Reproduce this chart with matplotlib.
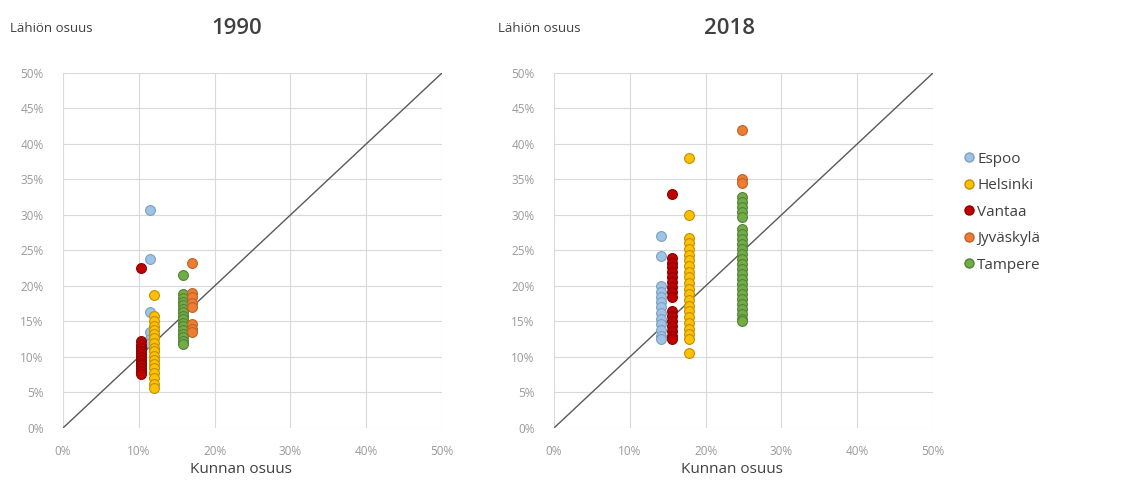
import matplotlib.pyplot as plt
from matplotlib.ticker import PercentFormatter
from matplotlib.lines import Line2D

plt.rcParams['font.family'] = ['Open Sans', 'DejaVu Sans']

cities = ['Espoo', 'Helsinki', 'Vantaa', 'Jyväskylä', 'Tampere']
fill = ['#9dc3e6', '#ffc000', '#c00000', '#ed7d31', '#70ad47']
edge = ['#7f9fbf', '#bf9000', '#8b0000', '#c0622a', '#548235']

# 1990: municipality share (x) and neighbourhood shares (y), percent
x1990 = {'Espoo': 11.5, 'Helsinki': 12.0, 'Vantaa': 10.3, 'Jyväskylä': 17.0, 'Tampere': 15.8}
y1990 = {
    'Espoo': [30.7, 23.8, 16.3, 13.5, 12.5, 12.0],
    'Vantaa': [22.5, 12.2, 11.7, 11.2, 10.8, 10.4, 10.0, 9.6, 9.2, 8.8, 8.4, 8.0, 7.6],
    'Helsinki': [18.7, 15.8, 15.0, 14.3, 13.8, 13.2, 12.6, 12.0, 11.3, 10.8, 10.2,
                 9.6, 9.0, 8.4, 7.8, 7.0, 6.2, 5.6],
    'Tampere': [21.5, 18.8, 18.3, 17.8, 17.3, 16.8, 16.3, 15.8, 15.3, 14.8, 14.3,
                13.8, 13.3, 12.8, 12.3, 11.8],
    'Jyväskylä': [23.3, 19.0, 18.4, 17.6, 17.0, 14.6, 14.0, 13.5],
}

# 2018
x2018 = {'Espoo': 14.1, 'Helsinki': 17.8, 'Vantaa': 15.5, 'Jyväskylä': 24.8, 'Tampere': 24.8}
y2018 = {
    'Espoo': [27.0, 24.2, 20.0, 19.2, 18.5, 17.8, 17.0, 16.2, 15.4, 14.6, 13.8, 13.0, 12.5],
    'Vantaa': [33.0, 24.0, 23.3, 22.6, 21.9, 21.2, 20.5, 19.8, 19.1, 18.4, 16.5, 15.8,
               15.1, 14.4, 13.7, 13.0, 12.5],
    'Helsinki': [38.0, 30.0, 26.8, 26.0, 25.2, 24.4, 23.6, 22.8, 22.0, 21.2, 20.4, 19.6,
                 18.8, 18.0, 17.2, 16.4, 15.6, 14.8, 14.0, 13.2, 12.5, 10.5],
    'Tampere': [32.5, 31.8, 31.1, 30.4, 29.7, 28.0, 27.3, 26.6, 25.9, 25.2, 24.5, 23.8,
                23.1, 22.4, 21.7, 21.0, 20.3, 19.6, 18.9, 18.2, 17.5, 16.8, 16.1, 15.4, 15.0],
    'Jyväskylä': [42.0, 35.0, 34.5],
}

draw_order = ['Espoo', 'Vantaa', 'Helsinki', 'Tampere', 'Jyväskylä']

fig = plt.figure(figsize=(11.36, 4.93), dpi=100)
ax_l = fig.add_axes([0.0555, 0.132, 0.3336, 0.720])
ax_r = fig.add_axes([0.4877, 0.132, 0.3336, 0.720])

panels = [(ax_l, x1990, y1990, '1990', 0.009, 0.2086),
          (ax_r, x2018, y2018, '2018', 0.438, 0.6426)]

for ax, xs, ys, year, lx, tx in panels:
    ax.plot([0, 50], [0, 50], color='#595959', lw=1, zorder=2)
    for c in draw_order:
        i = cities.index(c)
        ax.scatter([xs[c]] * len(ys[c]), ys[c], s=50, color=fill[i], edgecolor=edge[i],
                   linewidth=0.8, zorder=3)
    ax.set_xlim(0, 50)
    ax.set_ylim(0, 50)
    ax.set_xticks(range(0, 51, 10))
    ax.set_yticks(range(0, 51, 5))
    ax.xaxis.set_major_formatter(PercentFormatter(decimals=0))
    ax.yaxis.set_major_formatter(PercentFormatter(decimals=0))
    ax.tick_params(length=0, labelsize=8.5, labelcolor='#9a9a9a')
    ax.tick_params(axis='y', pad=14)
    ax.tick_params(axis='x', pad=12)
    ax.grid(color='#d9d9d9', lw=0.8, zorder=0)
    for s in ax.spines.values():
        s.set_visible(False)
    ax.set_xlabel('Kunnan osuus', fontsize=11, color='#404040')
    ax.xaxis.set_label_coords(0.47, -0.095)
    fig.text(lx, 0.943, 'Lähiön osuus', fontsize=9.5, color='#404040', va='center')
    fig.text(tx, 0.943, year, fontsize=16, fontweight='semibold',
             color='#404040', va='center', ha='center')

handles = [Line2D([], [], marker='o', ls='', markersize=6.5, markerfacecolor=fill[i],
                  markeredgecolor=edge[i], label=c) for i, c in enumerate(cities)]
fig.legend(handles=handles, loc='upper left', bbox_to_anchor=(0.834, 0.72), frameon=False,
           fontsize=11, labelcolor='#404040', handletextpad=0.05, handlelength=1,
           labelspacing=0.75)

fig.savefig('out.png', dpi=100)
